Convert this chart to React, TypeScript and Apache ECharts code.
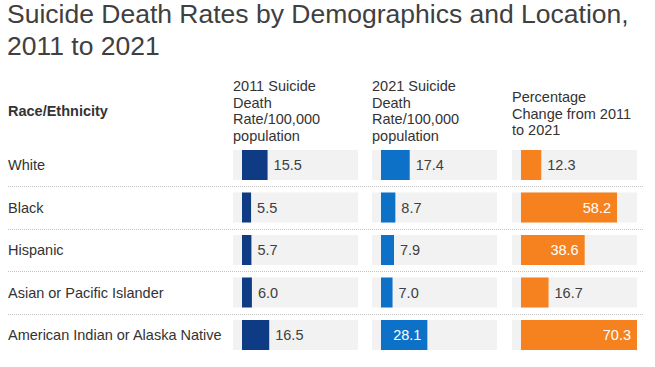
import React, { useEffect, useRef } from "react";
import * as echarts from "echarts";

const categories = [
  "White",
  "Black",
  "Hispanic",
  "Asian or Pacific Islander",
  "American Indian or Alaska Native",
];
const rate2011 = [15.5, 5.5, 5.7, 6.0, 16.5];
const rate2021 = [17.4, 8.7, 7.9, 7.0, 28.1];
const pctChange = [12.3, 58.2, 38.6, 16.7, 70.3];

const chartTitle = "Suicide Death Rates by Demographics and Location,\n2011 to 2021";
const rowHeader = "Race/Ethnicity";
const columnHeaders = [
  "2011 Suicide\nDeath\nRate/100,000\npopulation",
  "2021 Suicide\nDeath\nRate/100,000\npopulation",
  "Percentage\nChange from 2011\nto 2021",
];

const FONT = "'Liberation Sans', Arial, Helvetica, sans-serif";
const colors = ["#0f3a84", "#0d72c7", "#f5821f"];
const panelLefts = [233, 372, 512];
const PANEL_W = 125;
const GRID_TOP = 143.75;
const GRID_H = 212.5;
const AX_MIN = -5.45;
const AX_MAX = 70.3;

export default function App() {
  const ref = useRef<HTMLDivElement>(null);
  useEffect(() => {
    if (!ref.current) return;
    const chart = echarts.init(ref.current, undefined, { renderer: "svg" });
    const seriesData = [rate2011, rate2021, pctChange];

    const grids: any[] = panelLefts.map((l) => ({
      left: l,
      top: GRID_TOP,
      width: PANEL_W,
      height: GRID_H,
      containLabel: false,
    }));
    grids.push({ left: 8, right: 12, top: GRID_TOP, height: GRID_H });

    const xAxes: any[] = panelLefts.map((_, i) => ({
      type: "value",
      gridIndex: i,
      min: AX_MIN,
      max: AX_MAX,
      show: false,
    }));
    xAxes.push({ type: "value", gridIndex: 3, min: 0, max: 1, show: false });

    const yAxes: any[] = panelLefts.map((_, i) => ({
      type: "category",
      gridIndex: i,
      inverse: true,
      data: categories,
      axisLine: { show: false },
      axisTick: { show: false },
      splitLine: { show: false },
      axisLabel:
        i === 0
          ? {
              show: true,
              align: "left",
              margin: panelLefts[0] - 8,
              fontFamily: FONT,
              fontSize: 14.5,
              color: "#333333",
            }
          : { show: false },
    }));
    yAxes.push({
      type: "category",
      gridIndex: 3,
      inverse: true,
      data: categories,
      axisLine: { show: false },
      axisTick: { show: false },
      axisLabel: { show: false },
      splitLine: {
        show: true,
        interval: 0,
        showMinLine: false,
        showMaxLine: false,
        lineStyle: { color: "#c4c4c4", type: "dotted", width: 1 },
      },
    });

    const series = seriesData.map((arr, i) => ({
      type: "bar",
      xAxisIndex: i,
      yAxisIndex: i,
      barWidth: 30,
      showBackground: true,
      backgroundStyle: { color: "#f2f2f2" },
      itemStyle: { color: colors[i] },
      data: arr.map((v) => {
        const inside = v > 20;
        return {
          value: v,
          label: {
            show: true,
            position: inside ? "insideRight" : "right",
            distance: 6,
            color: inside ? "#ffffff" : "#404040",
            fontFamily: FONT,
            fontSize: 14.5,
            formatter: (p: any) => Number(p.value).toFixed(1),
          },
        };
      }),
    }));

    const headerTops = [77.6, 77.6, 88.6];
    const titles: any[] = [
      {
        text: chartTitle,
        left: 7,
        top: -2,
        padding: 0,
        textStyle: {
          fontFamily: FONT,
          fontSize: 26.5,
          lineHeight: 32,
          fontWeight: "normal",
          color: "#404040",
        },
      },
      {
        text: rowHeader,
        left: 8,
        top: 102.6,
        padding: 0,
        textStyle: {
          fontFamily: FONT,
          fontSize: 14.5,
          lineHeight: 16.7,
          fontWeight: "bold",
          color: "#333333",
        },
      },
      ...columnHeaders.map((h, i) => ({
        text: h,
        left: panelLefts[i],
        top: headerTops[i],
        padding: 0,
        textStyle: {
          fontFamily: FONT,
          fontSize: 14.5,
          lineHeight: 16.7,
          fontWeight: "normal",
          color: "#333333",
        },
      })),
    ];

    chart.setOption({
      animation: false,
      backgroundColor: "#ffffff",
      title: titles,
      grid: grids,
      xAxis: xAxes,
      yAxis: yAxes,
      series,
    });
    return () => chart.dispose();
  }, []);
  return (
    <div
      ref={ref}
      style={{ position: "fixed", left: 0, top: 0, width: 655, height: 367 }}
    />
  );
}
